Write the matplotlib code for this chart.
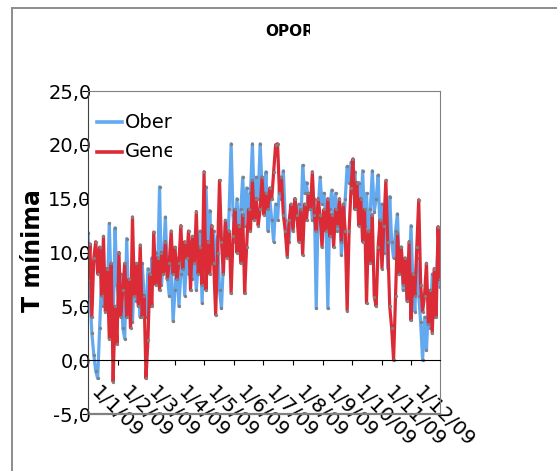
import matplotlib
matplotlib.use("Agg")
import matplotlib.pyplot as plt
import matplotlib.transforms as mtransforms
from matplotlib.lines import Line2D
from matplotlib.patches import Rectangle

W, H = 557, 471  # output size in px (dpi 100)

# ---- data: daily minimum temperature 2009, read every 2nd day off the picture ----
days = list(range(0, 365, 2))
obs = [
    11.8, 6.0, 2.5, 0.5, -1.0, -1.7, 3.0, 7.5, 5.0, 8.5,
    6.0, 12.7, 6.5, 3.5, 12.3, 7.0, 5.5, 8.0, 3.0, 2.0,
    11.3, 5.0, 7.0, 3.5, 8.5, 5.5, 7.0, 4.0, 9.0, 6.0,
    4.0, 8.5, 5.0, 9.5, 7.5, 10.0, 8.0, 16.1, 7.0, 9.5,
    13.3, 8.0, 6.0, 9.0, 3.6, 6.5, 9.5, 5.0, 8.0, 10.5,
    6.0, 9.5, 8.0, 11.0, 7.5, 10.0, 6.5, 9.0, 12.0, 5.3,
    12.5, 16.1, 11.0, 13.9, 9.0, 12.0, 8.0, 11.5, 6.5, 4.8,
    9.0, 12.5, 10.0, 14.0, 20.1, 13.5, 11.0, 15.0, 12.0, 14.0,
    17.0, 12.5, 16.0, 13.5, 15.5, 20.1, 14.5, 17.0, 15.0, 20.1,
    16.0, 14.0, 17.5, 12.0, 15.0, 13.0, 11.0, 14.5, 13.0, 16.0,
    15.0, 17.6, 13.0, 12.0, 11.0, 14.0, 12.5, 15.0, 13.0, 14.5,
    12.0, 18.1, 15.5, 16.5, 14.0, 15.5, 13.0, 15.0, 4.8, 14.0,
    17.0, 14.5, 15.5, 13.0, 4.8, 14.0, 15.8, 13.0, 15.5, 12.0,
    14.5, 9.8, 12.0, 15.0, 18.0, 16.5, 18.4, 15.5, 17.5, 14.0,
    16.5, 13.5, 17.6, 12.5, 15.5, 11.0, 14.0, 17.6, 13.8, 15.0,
    17.2, 12.0, 14.5, 10.0, 13.0, 8.5, 15.2, 11.0, 9.5, 12.0,
    13.6, 8.0, 10.5, 6.5, 9.0, 5.5, 8.0, 12.5, 7.0, 4.5,
    9.5, 6.0, 3.5, 0.0, 4.0, 0.9, 5.0, 3.0, 8.0, 4.0,
    6.5, 11.0, 6.8,
]
gen = [
    7.4, 10.8, 4.0, 9.5, 11.0, 8.0, 10.5, 6.0, 11.5, 4.5,
    8.5, 2.0, 9.0, -2.0, 5.0, 1.5, 10.0, 4.0, 6.5, 9.0,
    4.0, 7.5, 3.0, 13.3, 6.0, 9.0, 5.0, 10.7, 4.0, 6.0,
    -1.7, 1.9, 8.0, 5.0, 11.9, 7.0, 9.5, 6.5, 10.0, 8.0,
    11.0, 7.5, 9.0, 12.0, 8.0, 10.5, 7.5, 9.0, 12.5, 8.5,
    11.0, 9.5, 12.0, 6.5, 11.5, 9.0, 13.8, 8.0, 10.5, 7.0,
    17.5, 6.5, 11.0, 8.0, 12.5, 9.0, 4.2, 10.0, 16.7, 11.0,
    8.0, 13.0, 9.5, 12.0, 6.2, 11.5, 14.0, 10.0, 12.5, 9.0,
    13.5, 6.2, 10.5, 14.0, 12.0, 16.7, 13.0, 15.0, 12.5, 14.0,
    17.0, 13.5, 15.5, 14.0, 16.0, 15.0, 17.5, 20.0, 20.1, 15.5,
    17.0, 13.5, 12.0, 9.6, 13.0, 14.5, 12.0, 15.0, 13.5, 11.0,
    14.0, 9.8, 14.5, 13.0, 15.5, 14.0, 17.5, 13.5, 12.0, 15.0,
    13.5, 10.5, 14.0, 12.0, 15.0, 11.5, 13.5, 10.5, 14.0, 12.5,
    15.0, 11.0, 14.5, 12.0, 4.6, 12.0, 16.0, 18.7, 14.0, 16.5,
    12.5, 15.0, 11.0, 14.0, 5.3, 12.0, 9.0, 13.5, 5.9, 5.0,
    10.5, 13.0, 8.5, 12.5, 16.7, 11.0, 5.0, 3.0, 0.0, 6.0,
    11.8, 8.0, 10.5, 7.0, 9.5, 5.5, 11.0, 3.7, 8.0, 6.0,
    10.5, 14.9, 7.0, 4.5, 6.0, 9.0, 3.4, 6.5, 2.5, 8.5,
    4.0, 12.4, 7.5,
]
month_days = [0, 31, 59, 90, 120, 151, 181, 212, 243, 273, 304, 334]
month_labels = [f"1/{m}/09" for m in range(1, 13)]
yticks = [-5, 0, 5, 10, 15, 20, 25]

BLUE, RED, GREY = "#63a9f0", "#db2b36", "#808080"

fig = plt.figure(figsize=(W / 100, H / 100), dpi=100)
fx = lambda px: px / W
fy = lambda py: 1 - py / H

# outer chart-area frame (only the left/top edges are in view)
fig.add_artist(Line2D([fx(12), fx(12)], [fy(8), 0], transform=fig.transFigure, color="#8c8c8c", lw=1.4))
fig.add_artist(Line2D([fx(12), 1], [fy(8), fy(8)], transform=fig.transFigure, color="#8c8c8c", lw=1.4))

ax = fig.add_axes([fx(88), fy(414), (440 - 88) / W, (414 - 91) / H])
ax.plot(days, obs, color=BLUE, lw=2.3, marker="o", ms=2.4, mfc=GREY, mec="none", solid_joinstyle="round")
ax.plot(days, gen, color=RED, lw=2.3, marker="o", ms=2.4, mfc=GREY, mec="none", solid_joinstyle="round")

ax.set_xlim(0, 364)
ax.set_ylim(-5, 25)
ax.set_yticks(yticks)
ax.set_yticklabels([f"{v:.1f}".replace(".", ",") for v in yticks])
ax.set_xticks(month_days)
ax.set_xticklabels(month_labels)

for s in ("top", "right"):
    ax.spines[s].set_color(GREY)
ax.spines["left"].set_color("#404040")
ax.spines["bottom"].set_position(("data", 0))
ax.spines["bottom"].set_color("black")
ax.axhline(-5, color=GREY, lw=1.6, clip_on=False)

ax.tick_params(axis="y", direction="out", length=4, width=0.8, pad=-6.5, labelsize=14, colors="black")
ax.tick_params(axis="x", direction="out", length=3.6, width=0.8, pad=13, labelsize=14.3)
off = mtransforms.ScaledTranslation(13 / 100, 0, fig.dpi_scale_trans)
for lab in ax.get_xticklabels():
    lab.set_rotation(-45)
    lab.set_rotation_mode("anchor")
    lab.set_ha("left")
    lab.set_va("top")
    lab.set_transform(lab.get_transform() + off)

fig.text(fx(33), fy(251), "T mínima", rotation=90, ha="center", va="center",
         fontsize=17, fontweight="bold")

# title, cut off by the chart area as in the source
clip_t = mtransforms.TransformedBbox(mtransforms.Bbox.from_extents(0, fy(50), fx(310), 1), fig.transFigure)
t = fig.text(fx(265), fy(32), "OPORTO", ha="left", va="center", fontsize=11, fontweight="bold")
t.set_clip_box(clip_t)
t.set_clip_on(True)

# legend box (clipped, overlapping the plot)
fig.add_artist(Rectangle((fx(92), fy(170)), fx(172) - fx(92), fy(100) - fy(170),
                         transform=fig.transFigure, facecolor="white", edgecolor="none", zorder=5))
clip_l = mtransforms.TransformedBbox(mtransforms.Bbox.from_extents(fx(92), fy(172), fx(172), fy(98)), fig.transFigure)
for yy, col, name in [(122, BLUE, "Obervada"), (152, RED, "Generada")]:
    fig.add_artist(Line2D([fx(97), fx(122)], [fy(yy), fy(yy)], transform=fig.transFigure,
                          color=col, lw=2.6, zorder=6))
    tx = fig.text(fx(125), fy(yy), name, ha="left", va="center", fontsize=14, zorder=6)
    tx.set_clip_box(clip_l)
    tx.set_clip_on(True)

fig.savefig("out.png", dpi=100)
